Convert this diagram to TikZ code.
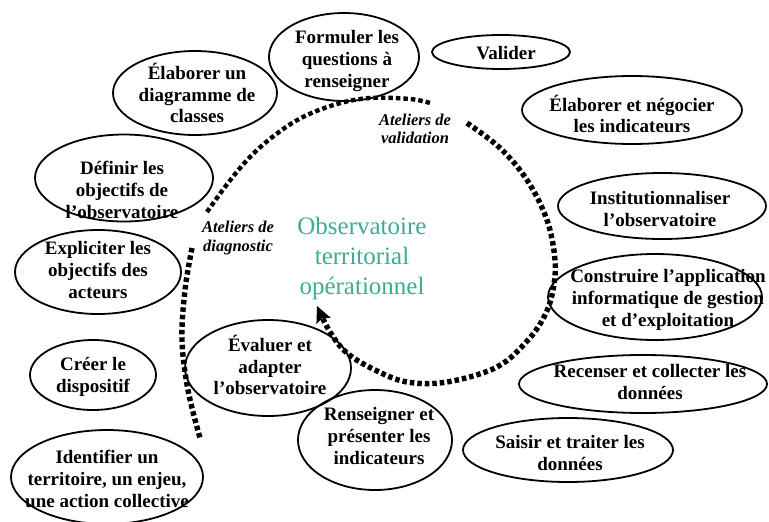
\documentclass[tikz,border=0pt]{standalone}
\usepackage{fontspec}
\setmainfont{Liberation Serif}
\usetikzlibrary{shapes.geometric,arrows.meta}
\definecolor{tealtxt}{RGB}{62,172,148}
\begin{document}
\begin{tikzpicture}[x=1pt,y=-1pt,
  bub/.style={ellipse, draw, line width=1.8pt, inner sep=0pt},
  txt/.style={align=center, inner sep=0pt, font=\bfseries\fontsize{19}{21.8}\selectfont},
  atel/.style={align=center, inner sep=0pt, font=\bfseries\itshape\fontsize{16.5}{18.5}\selectfont},
  dotline/.style={line width=5.4pt, dash pattern=on 4.5pt off 3pt},
]
\useasboundingbox (0,0) rectangle (769,522);
\fill[white] (0,0) rectangle (769,522);

% ellipses
\node[bub, minimum width=150pt, minimum height=88pt] (e1) at (344,57) {};
\node[bub, minimum width=138pt, minimum height=34pt] (e2) at (501,52) {};
\node[bub, minimum width=164pt, minimum height=84pt] (e3) at (195,93) {};
\node[bub, minimum width=220pt, minimum height=68pt] (e4) at (632,110) {};
\node[bub, minimum width=178pt, minimum height=87pt] (e5) at (124,178) {};
\node[bub, minimum width=208pt, minimum height=66pt] (e6) at (662,206) {};
\node[bub, minimum width=166pt, minimum height=84pt] (e7) at (98,272) {};
\node[bub, minimum width=214pt, minimum height=86pt] (e8) at (655,297) {};
\node[bub, minimum width=126pt, minimum height=70pt] (e9) at (93,375) {};
\node[bub, minimum width=166pt, minimum height=96pt] (e10) at (268,368) {};
\node[bub, minimum width=248pt, minimum height=58pt] (e11) at (643,384) {};
\node[bub, minimum width=154pt, minimum height=100pt] (e12) at (375,440) {};
\node[bub, minimum width=210pt, minimum height=64pt] (e13) at (568,450) {};
\node[bub, minimum width=192pt, minimum height=94pt] (e14) at (107,477) {};

% texts
\node[txt] (t1) at (347,61) {Formuler les\\questions à\\renseigner};
\node[txt] (t2) at (506,53) {Valider};
\node[txt] (t3) at (197,93) {Élaborer un\\diagramme de\\classes};
\node[txt] (t4) at (632,114) {Élaborer et négocier\\les indicateurs};
\node[txt] (t5) at (122,190) {Définir les\\objectifs de\\l’observatoire};
\node[txt] (t6) at (660,209) {Institutionnaliser\\l’observatoire};
\node[txt] (t7) at (98,270) {Expliciter les\\objectifs des\\acteurs};
\node[txt] (t8) at (668,300) {Construire l’application\\informatique de gestion\\et d’exploitation};
\node[txt] (t9) at (93,377) {Créer le\\dispositif};
\node[txt] (t10) at (270,365) {Évaluer et\\adapter\\l’observatoire};
\node[txt] (t11) at (650,382) {Recenser et collecter les\\données};
\node[txt] (t12) at (379,436) {Renseigner et\\présenter les\\indicateurs};
\node[txt] (t13) at (570,453) {Saisir et traiter les\\données};
\node[txt] (t14) at (107,479) {Identifier un\\territoire, un enjeu,\\une action collective};

\node[atel] (av) at (415,129) {Ateliers de\\validation};
\node[atel] (ad) at (238,238) {Ateliers de\\diagnostic};

\node[align=center, inner sep=0pt, text=tealtxt, font=\fontsize{25}{30}\selectfont] (obs) at (362,258) {Observatoire\\territorial\\opérationnel};

% dotted cycle
\draw[dotline, line width=4.4pt] plot[smooth, tension=0.6] coordinates {(207,212) (228,183) (250,157) (275,135) (303,117) (337,104) (370,98) (410,99) (430,103)};
\draw[dotline] plot[smooth, tension=0.6] coordinates {(192,248) (185,290) (182,340) (188,390) (200,438)};
\draw[dotline, -{Stealth[length=16pt,width=15pt,inset=3pt]}] plot[smooth, tension=0.6] coordinates {(467,123) (500,148) (527,180) (547,220) (555,260) (553,290) (545,315) (528,340) (497,367) (447,382) (407,382) (375,370) (347,353) (330,332) (317,306)};
\end{tikzpicture}
\end{document}
